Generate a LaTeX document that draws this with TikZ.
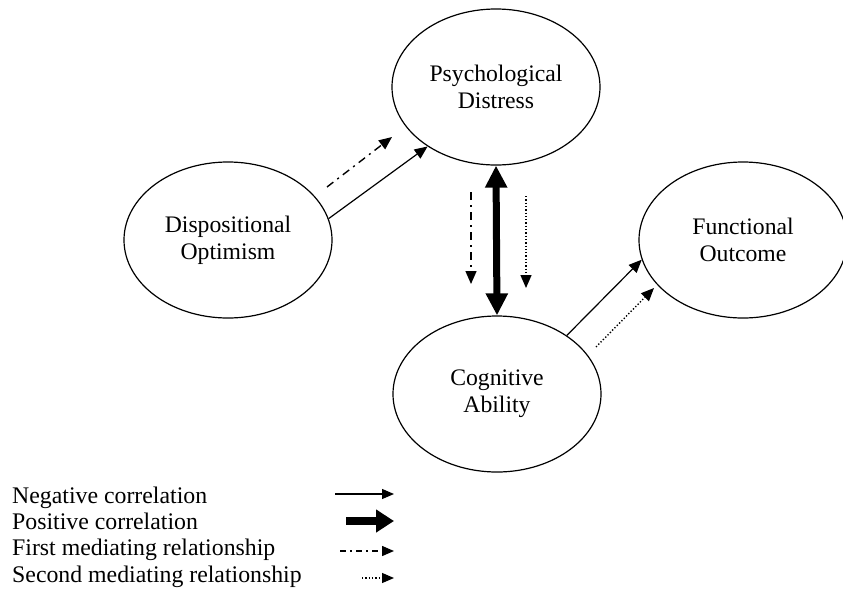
\documentclass[tikz,border=0pt]{standalone}
\usepackage{fontspec}
\setmainfont{Liberation Serif}
\usetikzlibrary{shapes.geometric,arrows.meta}

\begin{document}
\begin{tikzpicture}[x=1pt,y=-1pt,
  factor/.style={ellipse,draw,line width=1.2pt,inner sep=0pt,
    minimum width=208pt,minimum height=156pt,align=center,
    font=\fontsize{23.7}{27}\selectfont},
  negcor/.style={line width=1.2pt,-{Triangle[length=13pt,width=11pt]}},
  poscor/.style={line width=7pt,{Triangle[length=22pt,width=21pt]}-{Triangle[length=22pt,width=21pt]}},
  firstmed/.style={line width=1.4pt,dash pattern=on 8pt off 5pt on 2pt off 5pt,
    -{Triangle[length=13pt,width=11pt]}},
  secondmed/.style={line width=1.4pt,dash pattern=on 1.3pt off 2pt,
    -{Triangle[length=13pt,width=11pt]}},
  legtext/.style={anchor=base west,inner sep=0pt,font=\fontsize{23.8}{26}\selectfont}]
\useasboundingbox (0,0) rectangle (843,595);

% factors
\node[factor] (psych) at (496,87) {Psychological\\Distress};
\node[factor] (disp)  at (228,240) {Dispositional\\Optimism};
\node[factor] (func)  at (743,240) {Functional\\Outcome};
\node[factor] (cog)   at (497,394) {Cognitive\\Ability};

% correlations
\draw[negcor] (disp.12) -- (psych.221);
\draw[negcor] (cog.40) -- (func.191);
\draw[poscor] (psych.south) -- (cog.north);

% mediating paths
\coordinate (m1a) at (327,187);
\coordinate (m1b) at (392,137);
\coordinate (m2a) at (471,192);
\coordinate (m2b) at (471,284);
\coordinate (m3a) at (526,196);
\coordinate (m3b) at (526,288);
\coordinate (m4a) at (596,347);
\coordinate (m4b) at (654,288);
\draw[firstmed] (m1a) -- (m1b);
\draw[firstmed] (m2a) -- (m2b);
\draw[secondmed] (m3a) -- (m3b);
\draw[secondmed] (m4a) -- (m4b);

% legend
\node[legtext] (l1) at (12,503) {Negative correlation};
\node[legtext] (l2) at (12,529) {Positive correlation};
\node[legtext] (l3) at (12,555) {First mediating relationship};
\node[legtext] (l4) at (12,582) {Second mediating relationship};
\coordinate (k1a) at (335,494);
\coordinate (k1b) at (394,494);
\coordinate (k2a) at (346,521);
\coordinate (k2b) at (394,521);
\coordinate (k3a) at (340,551);
\coordinate (k3b) at (394,551);
\coordinate (k4a) at (362,578);
\coordinate (k4b) at (394,578);
\draw[negcor,-{Triangle[length=12pt,width=10pt]}] (k1a) -- (k1b);
\draw[line width=8pt,-{Triangle[length=18pt,width=22pt]}] (k2a) -- (k2b);
\draw[firstmed,dash pattern=on 6pt off 4pt on 2pt off 4pt,
  -{Triangle[length=12pt,width=10pt]}] (k3a) -- (k3b);
\draw[secondmed,line width=1.2pt,-{Triangle[length=12pt,width=10pt]}] (k4a) -- (k4b);
\end{tikzpicture}
\end{document}
